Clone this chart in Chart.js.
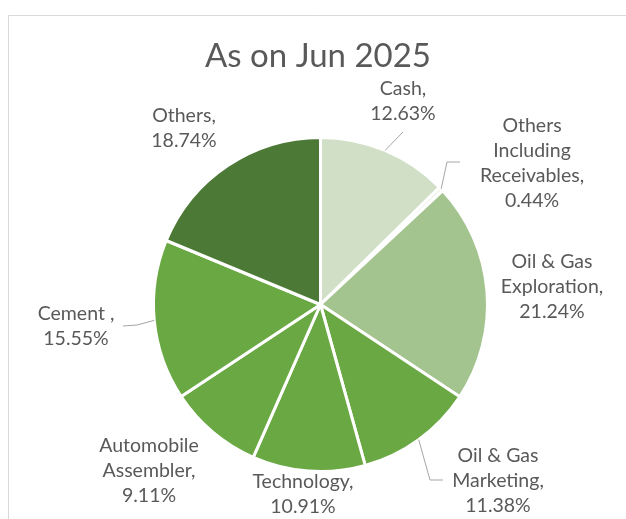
<!DOCTYPE html>
<html>
<head>
<meta charset="utf-8">
<script src="https://cdn.jsdelivr.net/npm/chart.js@4.4.1/dist/chart.umd.min.js"></script>
<style>
  html, body { margin: 0; padding: 0; background: #fff; }
  #wrap { width: 626px; height: 519px; position: relative; }
</style>
</head>
<body>
<div id="wrap"><canvas id="pie" width="626" height="519"></canvas></div>
<script>
var chartTitle = 'As on Jun 2025';

// Sectors, clockwise from 12 o'clock
var sectors = [
  'Cash',
  'Others Including Receivables',
  'Oil & Gas Exploration',
  'Oil & Gas Marketing',
  'Technology',
  'Automobile Assembler',
  'Cement ',
  'Others'
];
var weights = [12.63, 0.44, 21.24, 11.38, 10.91, 9.11, 15.55, 18.74];

var sliceColors = [
  '#d0dfc6', '#edf3e8', '#a4c48f', '#6aa843',
  '#6aa843', '#6aa843', '#6aa843', '#4c7a36'
];

// label text lines (wrapped as in the sheet); x centre and first baseline
var labelLines = [
  ['Cash,'],
  ['Others', 'Including', 'Receivables,'],
  ['Oil & Gas', 'Exploration,'],
  ['Oil & Gas', 'Marketing,'],
  ['Technology,'],
  ['Automobile', 'Assembler,'],
  ['Cement ,'],
  ['Others,']
];
var labelAt = [
  [403, 95], [532, 132], [552, 268], [498, 462],
  [303, 488], [149, 452], [76, 320], [184, 122]
];
// leader line bends after leaving the slice edge (null = no leader)
var leaders = [
  [[403, 132]],
  [[447, 162], [460, 162]],
  null,
  [[430, 480], [443, 480]],
  null,
  null,
  [[137, 325], [123, 326]],
  null
];

var FONT = 'Lato, "Open Sans", sans-serif';
var TEXT = '#595959';

var decorations = {
  id: 'decorations',
  beforeDraw: function(chart) {
    var ctx = chart.ctx;
    ctx.save();
    ctx.strokeStyle = '#d9d9d9';
    ctx.lineWidth = 1;
    ctx.beginPath();
    ctx.moveTo(8.5, 519);
    ctx.lineTo(8.5, 15.5);
    ctx.lineTo(626, 15.5);
    ctx.stroke();
    ctx.restore();
  },
  afterDraw: function(chart) {
    var ctx = chart.ctx;
    var arcs = chart.getDatasetMeta(0).data;
    ctx.save();
    ctx.fillStyle = TEXT;
    ctx.textAlign = 'center';
    ctx.textBaseline = 'alphabetic';
    ctx.font = '33px ' + FONT;
    ctx.fillText(chartTitle, 318, 67);

    // leader lines from the middle of each slice's outer edge
    ctx.strokeStyle = '#a6a6a6';
    ctx.lineWidth = 1;
    arcs.forEach(function(arc, i) {
      if (!leaders[i]) return;
      var p = arc.getProps(['x', 'y', 'startAngle', 'endAngle', 'outerRadius'], true);
      var mid = (p.startAngle + p.endAngle) / 2;
      ctx.beginPath();
      ctx.moveTo(p.x + Math.cos(mid) * p.outerRadius, p.y + Math.sin(mid) * p.outerRadius);
      leaders[i].forEach(function(pt) { ctx.lineTo(pt[0], pt[1]); });
      ctx.stroke();
    });

    ctx.font = '19.5px ' + FONT;
    var lh = 25;
    labelLines.forEach(function(lines, i) {
      var all = lines.concat([weights[i].toFixed(2) + '%']);
      all.forEach(function(t, k) {
        ctx.fillText(t, labelAt[i][0], labelAt[i][1] + k * lh);
      });
    });
    ctx.restore();
  }
};

new Chart(document.getElementById('pie'), {
  type: 'pie',
  data: {
    labels: sectors,
    datasets: [{
      data: weights,
      backgroundColor: sliceColors,
      borderColor: '#ffffff',
      borderWidth: 3,
      hoverOffset: 0
    }]
  },
  options: {
    responsive: false,
    animation: false,
    rotation: 0,
    layout: { padding: { left: 152, right: 137, top: 136, bottom: 46 } },
    plugins: {
      legend: { display: false },
      tooltip: { enabled: false },
      title: { display: false }
    }
  },
  plugins: [decorations]
});
</script>
</body>
</html>
